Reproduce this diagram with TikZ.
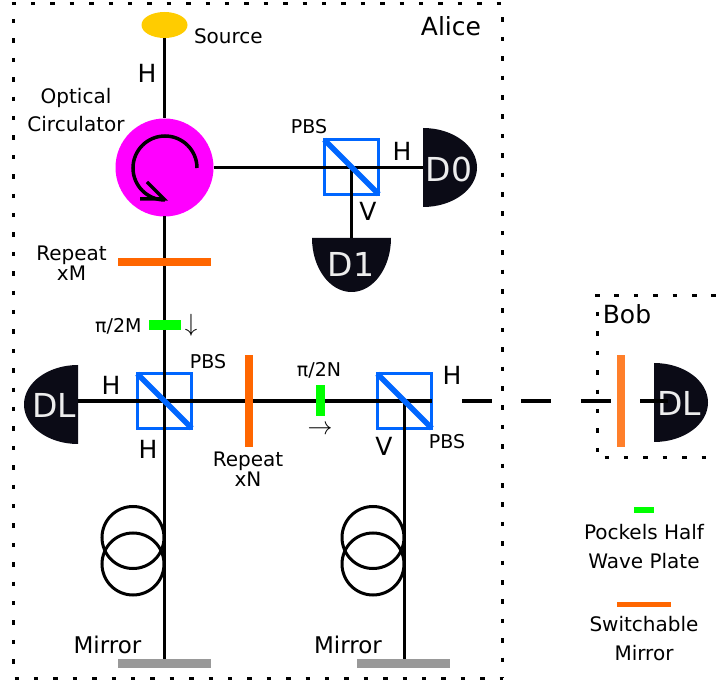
\documentclass[tikz,border=0pt]{standalone}
\usepackage{fontspec}
\setmainfont{DejaVu Sans}
\usepackage{xcolor}
\usetikzlibrary{shapes.geometric,positioning,calc}
\definecolor{detcol}{HTML}{0B0B16}
\definecolor{pbscol}{HTML}{0066FF}
\definecolor{switchcol}{HTML}{FF6600}
\definecolor{bobcol}{HTML}{FF7F2A}
\definecolor{platecol}{HTML}{00FF00}
\definecolor{srccol}{HTML}{FFCC00}
\definecolor{circcol}{HTML}{FF00FF}
\definecolor{mirrorcol}{HTML}{999999}

\begin{document}
\begin{tikzpicture}[
  x=1pt, y=-1pt,
  every node/.style={inner sep=0pt, outer sep=0pt},
  beam/.style     ={draw=black, line width=3.3pt},
  coil/.style     ={draw=black, line width=3pt},
  boxline/.style  ={draw=black, line width=3pt, dash pattern=on 4.5pt off 14.9pt},
  cube/.style     ={rectangle, draw=pbscol, line width=3pt, minimum size=54.5pt},
  split/.style    ={draw=pbscol, line width=5.5pt},
  detector/.style ={fill=detcol},
  dettext/.style  ={font=\fontsize{33}{33}\selectfont, text=white!93!black},
  devtext/.style  ={font=\fontsize{20}{28}\selectfont, align=center},
  keytext/.style  ={font=\fontsize{20}{29}\selectfont, align=center},
  rptext/.style   ={font=\fontsize{20}{20}\selectfont, align=center},
  pbstext/.style  ={font=\fontsize{19}{19}\selectfont},
  poltext/.style  ={font=\fontsize{25}{25}\selectfont},
  mirtext/.style  ={font=\fontsize{23}{23}\selectfont},
  switchbar/.style={rectangle, fill=switchcol, minimum width=#1, minimum height=8pt},
  switchup/.style ={rectangle, fill=switchcol, minimum width=8pt, minimum height=92pt},
  plate/.style    ={rectangle, fill=platecol, minimum width=32pt, minimum height=10pt},
  mirror/.style   ={rectangle, fill=mirrorcol, minimum width=93pt, minimum height=9pt}]

\useasboundingbox (0,0) rectangle (721,684);

% the flat face of a detector is centred on #1, the dome points along #2
\newcommand{\bdetector}[3]{%
  \fill[detector, shift={(#1)}, rotate=#2] (0,-39.5)
    arc[start angle=-90, end angle=90, x radius=54, y radius=39.5] -- cycle;
  \coordinate (#3) at (#1);}
\newcommand{\bcoil}[1]{%
  \draw[coil] (#1,537.5) circle[radius=31];
  \draw[coil] (#1,564) circle[radius=31];}

% =======================  the two boxes  ============================
\draw[boxline] (11.5,3.5) -- (503,3.5)
               (13.5,19) -- (13.5,678)
               (502.5,17.5) -- (502.5,678)
               (14.5,678) -- (503,678);
\draw[boxline] (595,296) -- (718,296)
               (597,312) -- (597,458)
               (604.5,458) -- (710,458);

% =======================  the parts  ================================
\node[ellipse, fill=srccol, minimum width=46pt, minimum height=26pt] (src) at (164.5,25) {};
\node[circle, fill=circcol, minimum size=98pt] (circ) at (164.5,167.5) {};
\node[switchbar=93pt] (repM) at (164.5,262) {};
\node[plate] (plateM) at (164.5,325) {};
\node[cube] (pbsA) at (351.5,167) {};
\node[cube] (pbsB) at (164.5,401) {};
\node[cube] (pbsC) at (404.5,401) {};
\node[switchup] (repN) at (249,401) {};
\node[plate, minimum width=9pt, minimum height=31pt] (plateN) at (320.5,401) {};
\node[switchup, fill=bobcol] (repB) at (621,401) {};
\node[mirror] (mirA) at (164.5,663.5) {};
\node[mirror] (mirB) at (403,663.5) {};

\bdetector{423,167.5}{0}{dzeroin}
\bdetector{351.5,238}{-90}{doneinn}
\bdetector{78,404.5}{180}{dlain}
\bdetector{654,402.5}{0}{dlbin}
\node[dettext] (dzero) at (449,169) {D0};
\node[dettext] (done)  at (351,264) {D1};
\node[dettext] (dla)   at (54,405) {DL};
\node[dettext] (dlb)   at (679,403) {DL};

% =======================  the beams  ================================
\draw[beam] (src.south) -- (circ.north);
\draw[beam] (circ.south) -- (repM.north);
\draw[beam] (repM.south) -- (plateM.north);
\draw[beam] (plateM.south) -- (mirA.north);
\draw[beam] (circ.east) -- (dzeroin);
\draw[beam] (pbsA.center) -- (doneinn);
\draw[beam] (dlain |- repN) -- (repN.west);
\draw[beam] (repN.east) -- (plateN.west);
\draw[beam] (plateN.east) -- (pbsC.east);
\draw[beam] (pbsC.center) -- (pbsC.center |- mirB.north);
\coordinate (beamout) at (462,401);
\coordinate (beamend) at (668,401);
\draw[beam, dash pattern=on 30pt off 29.4pt] (beamout) -- (beamend);

\foreach \p in {pbsA,pbsB,pbsC}{\draw[split] (\p.north west) -- (\p.south east);}

\bcoil{133}
\bcoil{373}

% the circulating arrow
\draw[line width=3.5pt] (197,168) arc[start angle=0, end angle=-270, radius=32];
\draw[line width=3.5pt] (147,182) -- (164,199) -- (140,199);

% =======================  the labels  ===============================
\node[devtext, anchor=west] (srctext) at (194,36) {Source};
\node[poltext] (polA) at (147,73) {H};
\node[devtext] (circtext) at (76,110) {Optical\\Circulator};
\node[rptext] (rpM) at (71.5,263) {Repeat\\xM};
\node[pbstext, anchor=east] (ptM) at (141.5,326) {π/2M};
\node[font=\fontsize{24}{24}\selectfont] (arM) at (191,325) {$\downarrow$};
\node[pbstext] (pbsAtext) at (309,127) {PBS};
\node[poltext] (polB) at (402,151) {H};
\node[poltext] (polC) at (368,211) {V};
\node[poltext] (polD) at (111,385) {H};
\node[poltext] (polE) at (148,449) {H};
\node[pbstext] (pbsBtext) at (208,362) {PBS};
\node[rptext] (rpN) at (248,469) {Repeat\\xN};
\node[pbstext] (ptN) at (319,370) {π/2N};
\node[font=\fontsize{24}{24}\selectfont] (arN) at (320,430) {$\rightarrow$};
\node[poltext] (polF) at (452,375) {H};
\node[poltext] (polG) at (384,446) {V};
\node[pbstext] (pbsCtext) at (447,442) {PBS};
\node[mirtext] (mirAtext) at (107.5,645) {Mirror};
\node[mirtext] (mirBtext) at (348,645) {Mirror};
\node[poltext] (alice) at (451,26) {Alice};
\node[poltext] (bob) at (627,314) {Bob};

% ===========================  legend  ================================
\node[plate, minimum width=20pt, minimum height=6pt] (keyplate) at (644,510) {};
\node[keytext, below=11pt of keyplate] (keyplatetext) {Pockels Half\\Wave Plate};
\node[switchbar=54pt, minimum height=5pt] (keyswitch) at (644,605) {};
\node[keytext, below=9pt of keyswitch] (keyswitchtext) {Switchable\\Mirror};
\end{tikzpicture}
\end{document}
